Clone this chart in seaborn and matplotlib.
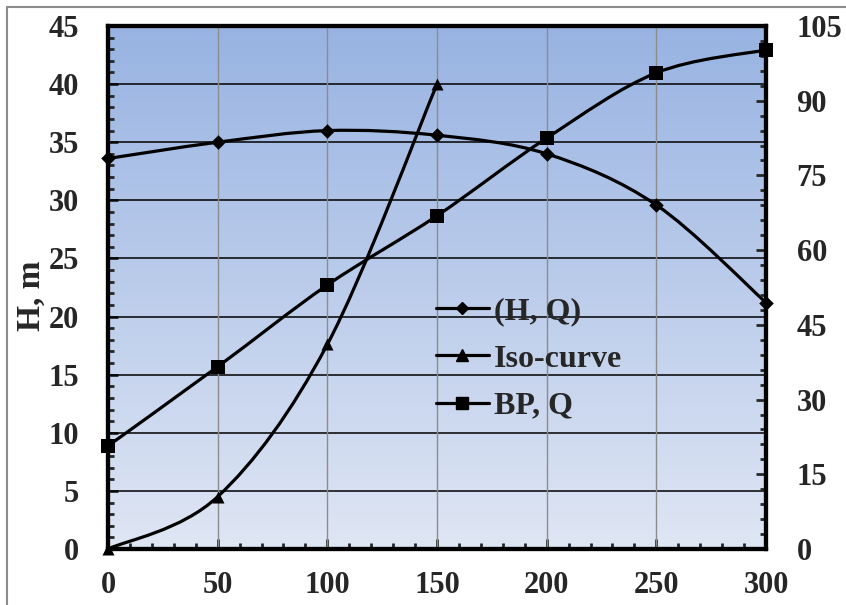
import numpy as np
import matplotlib
matplotlib.use("Agg")
import matplotlib.pyplot as plt
import seaborn as sns
from matplotlib.path import Path
from matplotlib.patches import PathPatch, Rectangle
from matplotlib.lines import Line2D
from matplotlib.ticker import MultipleLocator

# data
q_hq = [0, 50, 100, 150, 200, 250, 300]
h_hq = [33.6, 35.0, 36.0, 35.6, 34.0, 29.6, 21.2]

q_iso = [0, 50, 100, 150]
h_iso = [0.0, 4.5, 17.6, 40.0]

q_bp = [0, 50, 100, 150, 200, 250, 300]
bp = [20.7, 36.6, 53.0, 66.9, 82.5, 95.6, 100.2]

labels = ["(H, Q)", "Iso-curve", "BP, Q"]

sns.set_theme(style="white")
plt.rcParams["font.family"] = ["Liberation Serif", "DejaVu Serif"]
plt.rcParams["font.weight"] = "bold"


def smooth_path(xs, ys):
    # Excel-like smoothed line: Catmull-Rom segments as cubic Beziers
    pts = np.column_stack([xs, ys]).astype(float)
    ext = np.vstack([pts[0], pts, pts[-1]])
    verts = [pts[0]]
    codes = [Path.MOVETO]
    for i in range(1, len(ext) - 2):
        p0, p1, p2, p3 = ext[i - 1], ext[i], ext[i + 1], ext[i + 2]
        verts += [p1 + (p2 - p0) / 6, p2 - (p3 - p1) / 6, p2]
        codes += [Path.CURVE4] * 3
    return Path(verts, codes)


fig = plt.figure(figsize=(8.46, 6.05), dpi=100)
ax = fig.add_axes([108 / 846, 1 - 549 / 605, (766 - 108) / 846, (549 - 26) / 605])
ax2 = ax.twinx()

# gradient background
grad = np.linspace(0, 1, 256).reshape(-1, 1)
cmap = matplotlib.colors.LinearSegmentedColormap.from_list("bg", ["#dfe6f4", "#98b3e2"])
ax.imshow(grad, cmap=cmap, aspect="auto", extent=[0, 1, 0, 1], origin="lower",
          transform=ax.transAxes, zorder=0)

ax.set_xlim(0, 300)
ax.set_ylim(0, 45)
ax2.set_ylim(0, 105)

# grid
for y in np.arange(5, 45, 5):
    ax.axhline(y, color="black", lw=1.1, zorder=1)
for x in np.arange(50, 300, 50):
    ax.axvline(x, color="#8c8c8c", lw=1.0, zorder=1)

lw = 2.3
# smoothed lines
ax.add_patch(PathPatch(smooth_path(q_hq, h_hq), fill=False, lw=lw, ec="black", zorder=3))
ax.add_patch(PathPatch(smooth_path(q_iso, h_iso), fill=False, lw=lw, ec="black", zorder=3))
ax2.add_patch(PathPatch(smooth_path(q_bp, bp), fill=False, lw=lw, ec="black", zorder=3))

# markers
sns.scatterplot(x=q_hq, y=h_hq, marker="D", s=55, color="black", ax=ax, zorder=4, clip_on=False,
                linewidth=0)
sns.scatterplot(x=q_iso, y=h_iso, marker="^", s=75, color="black", ax=ax, zorder=4, clip_on=False,
                linewidth=0)
sns.scatterplot(x=q_bp, y=bp, marker="s", s=110, color="black", ax=ax2, zorder=4, clip_on=False,
                linewidth=0)

ax2.set_xlim(0, 300)
ax2.set_ylim(0, 105)

# spines and ticks
for a in (ax, ax2):
    for s in a.spines.values():
        s.set_linewidth(3)
        s.set_color("black")
        s.set_visible(True)
    a.grid(False)

ax.xaxis.set_major_locator(MultipleLocator(50))
ax.xaxis.set_minor_locator(MultipleLocator(10))
ax.yaxis.set_major_locator(MultipleLocator(5))
ax.yaxis.set_minor_locator(MultipleLocator(1))
ax2.yaxis.set_major_locator(MultipleLocator(15))
ax2.yaxis.set_minor_locator(MultipleLocator(3))

fs = 22
ax.tick_params(axis="x", which="major", direction="in", length=7, width=2, pad=16,
               labelsize=fs, bottom=True, top=False)
ax.tick_params(axis="x", which="minor", direction="in", length=4, width=2, bottom=True, top=False)
ax.tick_params(axis="y", which="major", direction="in", length=7, width=2, pad=21,
               labelsize=fs, left=True, right=False)
ax.tick_params(axis="y", which="minor", direction="in", length=4, width=2, left=True, right=False)
ax2.tick_params(axis="y", which="major", direction="in", length=7, width=2, pad=22,
                labelsize=fs, right=True, left=False)
ax2.tick_params(axis="y", which="minor", direction="in", length=4, width=2, right=True, left=False)

for t in ax.get_xticklabels() + ax.get_yticklabels() + ax2.get_yticklabels():
    t.set_fontweight("bold")

ax.set_xlabel("")
ax.set_ylabel("H, m", fontsize=24, fontweight="bold")
ax.yaxis.set_label_coords(-0.093, 0.485)
ax2.set_ylabel("")

# legend
handles = [
    Line2D([], [], color="black", lw=lw, marker="D", markersize=6),
    Line2D([], [], color="black", lw=lw, marker="^", markersize=8),
    Line2D([], [], color="black", lw=lw, marker="s", markersize=9),
]
leg = ax2.legend(handles, labels, loc="upper left", bbox_to_anchor=(436 / 846, 1 - 297 / 605),
                 bbox_transform=fig.transFigure, frameon=False, fontsize=23,
                 handlelength=1.65, handletextpad=0.15, labelspacing=0.56, borderaxespad=0,
                 borderpad=0)
for t in leg.get_texts():
    t.set_fontweight("bold")

# outer chart border
fig.patches.append(Rectangle((7 / 846, -0.1), 1.2, 1.1 - 7 / 605, transform=fig.transFigure,
                             fill=False, ec="#8c8c8c", lw=1.5, zorder=-1))

fig.savefig("out.png", dpi=100)
